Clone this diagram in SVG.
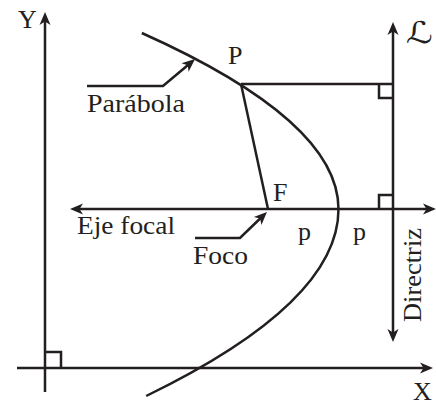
<svg xmlns="http://www.w3.org/2000/svg" width="436" height="405" viewBox="0 0 436 405">
<style>
.ln{fill:none;stroke:#231f20;stroke-width:2.5;stroke-linejoin:miter}
.t{font-family:"Liberation Serif","Times New Roman",serif;font-size:26px;fill:#231f20}
</style>
<defs>
<marker id="ah" markerUnits="userSpaceOnUse" viewBox="-6 -7 16 14" markerWidth="16" markerHeight="14" refX="0" refY="0" orient="auto-start-reverse" overflow="visible">
<path d="M8,0 L-5,-5.5 L-1.5,0 L-5,5.5 Z" fill="#231f20"/>
</marker>
</defs>
<rect width="436" height="405" fill="#fff"/>
<g id="connectors">
<path id="y-axis" class="ln" d="M45,392 L45,20" marker-end="url(#ah)"/>
<path id="x-axis" class="ln" d="M17,368 L425,368" marker-end="url(#ah)"/>
<path id="directrix" class="ln" d="M393,30 L393,334" marker-start="url(#ah)" marker-end="url(#ah)"/>
<path id="focal-axis" class="ln" d="M78,209 L428,209" marker-start="url(#ah)" marker-end="url(#ah)"/>
<path id="p-to-directrix" class="ln" d="M241,84 L393,84"/>
<path id="p-to-f" class="ln" d="M241,84 L268,209"/>
<path id="ra1" class="ln" d="M379,84 L379,98 L393,98"/>
<path id="ra2" class="ln" d="M379,209 L379,195 L393,195"/>
<path id="ra3" class="ln" d="M45,352 L61,352 L61,368"/>
<path id="leader-parabola" class="ln" d="M87,86 L163,86 L188.9,64.2" marker-end="url(#ah)"/>
<path id="leader-foco" class="ln" d="M195,238 L240,238 L261.2,217.5" marker-end="url(#ah)"/>
</g>
<g id="parabola">
<path class="ln" d="M141.8,33 Q338.5,121 338.5,209 Q338.5,302.5 146.2,396"/>
</g>
<g id="labels">
<text id="lbl-y" class="t" x="18" y="28">Y</text>
<text id="lbl-x" class="t" x="413" y="400">X</text>
<text id="lbl-L" x="406" y="43" textLength="27" lengthAdjust="spacingAndGlyphs" style="font-family:'DejaVu Serif','DejaVu Sans',serif;font-size:30px;font-style:italic;fill:#231f20">ℒ</text>
<text id="lbl-P" class="t" x="228" y="64">P</text>
<text id="lbl-F" class="t" x="273" y="201">F</text>
<text id="lbl-p1" class="t" x="298" y="240">p</text>
<text id="lbl-p2" class="t" x="353" y="240">p</text>
<text id="lbl-parabola" class="t" x="87" y="112" textLength="98" lengthAdjust="spacingAndGlyphs">Parábola</text>
<text id="lbl-eje" class="t" x="77" y="234" textLength="98" lengthAdjust="spacingAndGlyphs">Eje focal</text>
<text id="lbl-foco" class="t" x="193" y="264" textLength="55" lengthAdjust="spacingAndGlyphs">Foco</text>
<text id="lbl-directriz" class="t" x="421" y="322" transform="rotate(-90 421 322)" textLength="94" lengthAdjust="spacingAndGlyphs">Directriz</text>
</g>
</svg>
